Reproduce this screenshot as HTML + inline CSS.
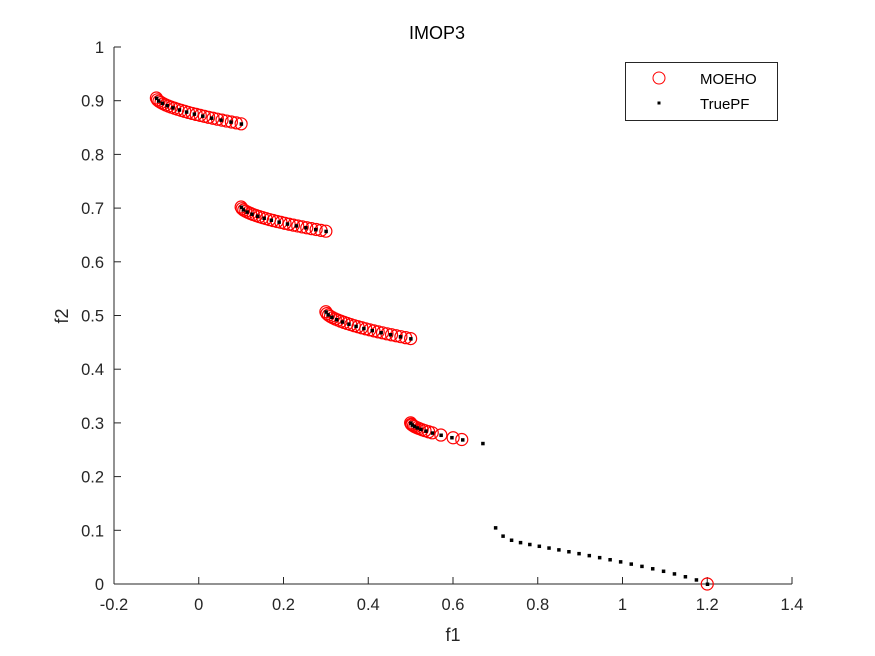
<!DOCTYPE html>
<html><head><meta charset="utf-8"><style>
body{margin:0;background:#fff}
svg{display:block;font-family:"Liberation Sans",Arial,sans-serif}
</style></head><body>
<svg id="s" width="875" height="656" viewBox="0 0 875 656">
<rect width="875" height="656" fill="#fff"/>
<g id="ax" stroke="#262626" stroke-width="1" fill="none">
<line x1="114" y1="584" x2="792" y2="584"/>
<line x1="114" y1="47" x2="114" y2="584"/>
</g>
<g id="lab" fill="#262626" font-size="16.5"></g>
<g id="pts"></g>
<text x="437" y="39" text-anchor="middle" font-size="18" fill="#000">IMOP3</text>
<text x="453" y="641" text-anchor="middle" font-size="18" fill="#262626">f1</text>
<text x="68" y="316" text-anchor="middle" font-size="18" fill="#262626" transform="rotate(-90 68 316)">f2</text>
<rect x="625.5" y="62.5" width="152" height="58" fill="#fff" stroke="#262626"/>
<circle cx="659" cy="78" r="6" fill="none" stroke="#f00"/>
<rect x="657.5" y="101.5" width="3" height="3" fill="#000"/>
<text x="700" y="84" font-size="15" fill="#000">MOEHO</text>
<text x="700" y="109" font-size="15" fill="#000">TruePF</text>
</svg>
<script>
var X=function(v){return 198.75+v*423.75},Y=function(v){return 584-v*537};
var ns="http://www.w3.org/2000/svg",lab=document.getElementById('lab'),ax=document.getElementById('ax'),pts=document.getElementById('pts');
function el(p,t,a,txt){var e=document.createElementNS(ns,t);for(var k in a)e.setAttribute(k,a[k]);if(txt!=null)e.textContent=txt;p.appendChild(e);return e}
[-0.2,0,0.2,0.4,0.6,0.8,1,1.2,1.4].forEach(function(v){var x=X(v);
el(ax,'line',{x1:x,y1:584,x2:x,y2:577});
el(lab,'text',{x:x,y:610,'text-anchor':'middle'},String(Math.round(v*10)/10));});
for(var i=0;i<=10;i++){var v=i/10,y=Y(v);
el(ax,'line',{x1:114,y1:y,x2:121,y2:y});
el(lab,'text',{x:104,y:y+6,'text-anchor':'end'},String(v));}
var segs=[[-0.1,0.1,0.905,0.048],[0.1,0.3,0.702,0.045],[0.3,0.5,0.507,0.05],[0.5,0.67,0.300,0.038]];
var circ=[],dots=[];
segs.forEach(function(s,k){
 var f=function(t){return [s[0]+(s[1]-s[0])*t, s[2]-s[3]*Math.pow(t,0.6)]};
 if(k<3){
 for(var i=0;i<=24;i++){var u=i/24;circ.push(f(Math.pow(u,1.4)));}
 for(var i=0;i<=12;i++){var u=i/12;dots.push(f(Math.pow(u,1.5)));}
 } else {
 [0,0.01,0.02,0.04,0.06,0.09,0.12,0.16,0.2,0.25,0.3,0.42,0.59,0.71].forEach(function(t){circ.push(f(t));});
 [0,0.02,0.05,0.09,0.14,0.21,0.3,0.42,0.57,0.72,1].forEach(function(t){dots.push(f(t));});
 }
});
for(var i=0;i<=21;i++){var t=Math.pow(i/21,1.1);dots.push([0.7+0.5*t,0.02*Math.exp(-t*30)+0.085*Math.pow(1-t,0.8)]);}
circ.push([1.2,0.0]);
circ.forEach(function(p){el(pts,'circle',{cx:X(p[0]),cy:Y(p[1]),r:6,fill:'none',stroke:'#f00','stroke-width':1.2});});
dots.forEach(function(p){el(pts,'rect',{x:X(p[0])-1.5,y:Y(p[1])-1.5,width:3.5,height:3.5,fill:'#000'});});
</script>
</body></html>
